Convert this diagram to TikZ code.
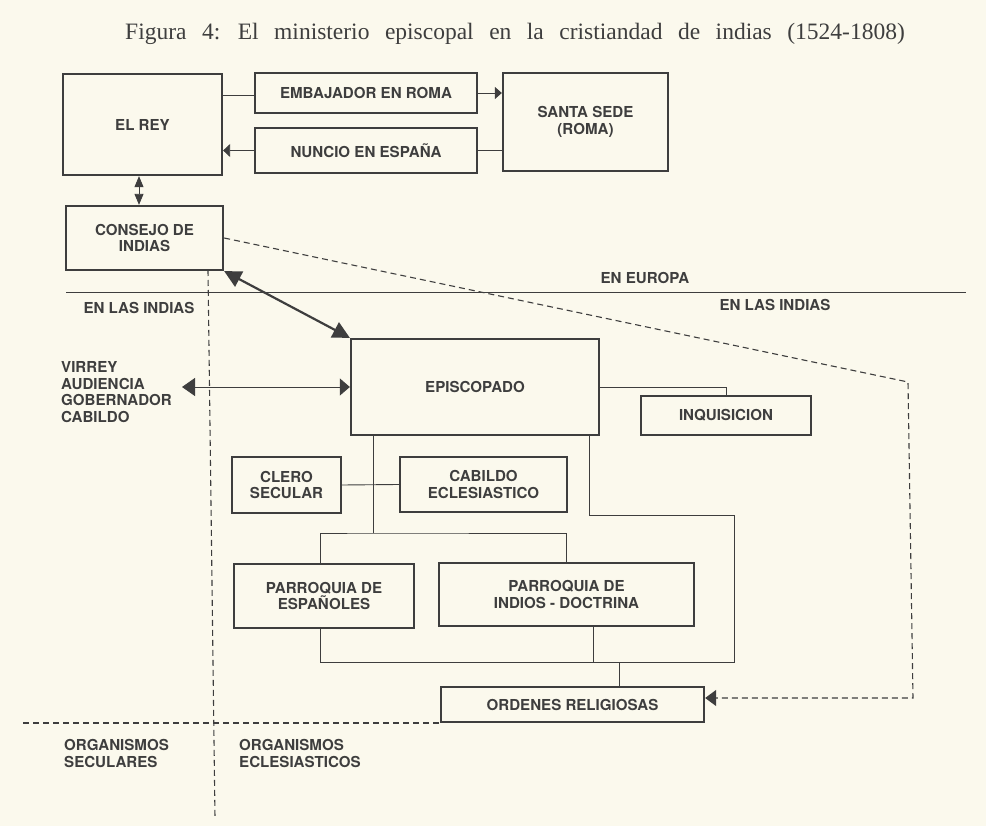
\documentclass[tikz,border=0pt]{standalone}
\usepackage{fontspec}
\setsansfont{TeX Gyre Heros}
\newfontfamily\titlefont{Liberation Serif}
\usetikzlibrary{arrows.meta}
\definecolor{paper}{RGB}{251,249,237}
\definecolor{ink}{RGB}{62,62,62}
\newcommand\labfont{\sffamily\bfseries\fontsize{15.1}{16.8}\selectfont}
\begin{document}
\begin{tikzpicture}[x=1pt,y=-1pt,
  boxnode/.style={draw=ink,line width=2.3pt,inner sep=0pt,align=center,font=\labfont,text=ink},
  lbl/.style={inner sep=0pt,align=center,font=\labfont,text=ink},
  conn/.style={draw=ink,line width=0.9pt},
  dashline/.style={draw=ink,line width=1.1pt,dash pattern=on 6pt off 4pt},
  smalltip/.style={-{Triangle[length=7pt,width=12pt]}},
]
\fill[paper] (0,0) rectangle (986,826);
\useasboundingbox (0,0) rectangle (986,826);

\node[lbl,font={\titlefont\fontsize{23.5}{27}\selectfont\spaceskip=15.5pt\relax}] (title) at (515,34)
  {Figura 4: El ministerio episcopal en la cristiandad de indias (1524-1808)};

% boxes
\node[boxnode,minimum width=159pt,minimum height=101pt] (rey) at (142.5,124.5) {EL REY};
\node[boxnode,minimum width=222pt,minimum height=40pt] (emb) at (366,93) {EMBAJADOR EN ROMA};
\node[boxnode,minimum width=222pt,minimum height=45pt] (nun) at (366,150.5) {NUNCIO EN ESPAÑA};
\node[boxnode,minimum width=165pt,minimum height=98pt] (santa) at (585.5,122) {SANTA SEDE\\(ROMA)};
\node[boxnode,minimum width=157pt,minimum height=64pt] (consejo) at (144.5,238) {CONSEJO DE\\INDIAS};
\node[boxnode,minimum width=248pt,minimum height=96pt] (episc) at (475,387) {EPISCOPADO};
\node[boxnode,minimum width=170pt,minimum height=39pt] (inq) at (726,415.5) {INQUISICION};
\node[boxnode,minimum width=109pt,minimum height=56pt] (clero) at (286.5,485) {CLERO\\SECULAR};
\node[boxnode,minimum width=167pt,minimum height=55pt] (cabildo) at (483.5,484.5) {CABILDO\\ECLESIASTICO};
\node[boxnode,minimum width=180pt,minimum height=64pt] (pesp) at (324,596) {PARROQUIA DE\\ESPAÑOLES};
\node[boxnode,minimum width=255pt,minimum height=63pt] (pind) at (566.5,594.5) {PARROQUIA DE\\INDIOS - DOCTRINA};
\node[boxnode,minimum width=263pt,minimum height=35pt] (ord) at (572.5,704.5) {ORDENES RELIGIOSAS};

% free labels
\node[lbl] (europa) at (645,278) {EN EUROPA};
\node[lbl] (indiasL) at (139,308) {EN LAS INDIAS};
\node[lbl] (indiasR) at (775,305) {EN LAS INDIAS};
\node[lbl,anchor=west,align=left] (virrey) at (61,392) {VIRREY\\AUDIENCIA\\GOBERNADOR\\CABILDO};
\node[lbl,anchor=west,align=left] (orgsec) at (64,753.5) {ORGANISMOS\\SECULARES};
\node[lbl,anchor=west,align=left] (orgecl) at (239,753.5) {ORGANISMOS\\ECLESIASTICOS};

% helper coordinates
\coordinate (vtip) at (182,387);
\coordinate (j1) at (373,533);
\coordinate (k1) at (589,515);
\coordinate (k2) at (734,662);
\coordinate (k3) at (593,662);
\coordinate (k4) at (619,662);
\coordinate (d1) at (908,382);
\coordinate (d2) at (913,698);
\coordinate (v1) at (208,270);
\coordinate (v2) at (215,818);
\coordinate (h1) at (23,723);
\coordinate (e1) at (66,293);
\coordinate (e2) at (966,293);
\coordinate (r1) at (222,95);

% top connectors
\draw[conn] (r1) -- (r1 -| emb.west);
\draw[conn,smalltip] (emb.east) -- (emb.east -| santa.west);
\draw[conn] (santa.west |- nun.east) -- (nun.east);
\draw[conn,-{Triangle[length=7pt,width=13pt]}] (nun.west) -- (nun.west -| rey.east);
\draw[conn,{Triangle[length=11pt,width=9pt]}-{Triangle[length=11pt,width=9pt]}] (rey.south -| 139,0) -- (consejo.north -| 139,0);

% separators
\draw[ink,line width=1pt] (e1) -- (e2);
\draw[dashline] (v1) -- (v2);
\draw[dashline] (h1) -- (h1 -| ord.west);

% thick double arrow
\draw[ink,line width=2.2pt,{Triangle[length=17pt,width=17pt]}-{Triangle[length=17pt,width=17pt]}] (consejo.south east) -- (episc.north west);

% episcopado to secular authorities
\draw[conn,{Triangle[length=10pt,width=17pt]}-{Triangle[length=13pt,width=18pt]}] (episc.west) -- (vtip);

% episcopado to inquisicion
\draw[conn] (episc.east) -| (inq.north);

% episcopado down tree
\draw[conn] (episc.south -| j1) -- (j1);
\draw[conn] (pesp.north -| 320,0) |- (j1) -| (pind.north);
\draw[conn] (clero.east) -- (cabildo.west);
\draw[conn] (episc.south -| k1) -- (k1) -| (k2) -| (pesp.south -| 320,0);
\draw[conn] (pind.south -| k3) -- (k3);
\draw[conn] (k4) -- (ord.north -| k4);

% dashed link consejo -> ordenes
\draw[dashline,-{Triangle[length=11pt,width=16pt]}] (consejo.east) -- (d1) -- (d2) -- (d2 -| ord.east);
\end{tikzpicture}
\end{document}
